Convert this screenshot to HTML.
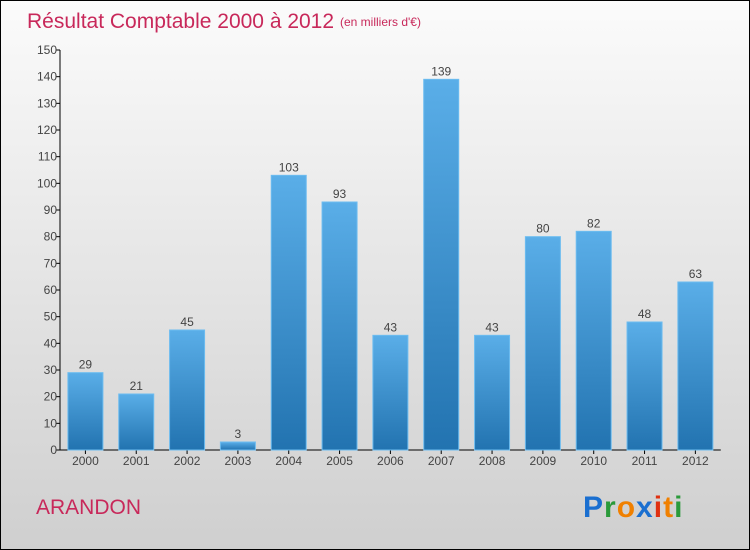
<!DOCTYPE html>
<html><head><meta charset="utf-8"><style>
body{margin:0;width:750px;height:550px;overflow:hidden;font-family:"Liberation Sans",sans-serif}
svg{display:block}
</style></head><body>
<svg id="c" width="750" height="550">
<defs>
<linearGradient id="bg" x1="0" y1="0" x2="0" y2="1"><stop offset="0" stop-color="#fbfbfb"/><stop offset="1" stop-color="#cfcfcf"/></linearGradient>
<linearGradient id="bar" x1="0" y1="0" x2="0" y2="1"><stop offset="0" stop-color="#5aaee8"/><stop offset="1" stop-color="#2273b0"/></linearGradient>
</defs>
<rect x="0.5" y="0.5" width="749" height="549" fill="url(#bg)" stroke="#000"/>
<text x="27" y="28" font-size="21" fill="#c8285a">Résultat Comptable 2000 à 2012</text>
<text x="340" y="26" font-size="12" fill="#c8285a">(en milliers d'€)</text>
<text x="36" y="514" font-size="21" fill="#c8285a">ARANDON</text>
<g font-size="30" font-weight="bold" font-family="Liberation Sans, sans-serif" letter-spacing="1">
<text x="583" y="517"><tspan fill="#1a6fd0">P</tspan><tspan fill="#2a9a3a">r</tspan><tspan fill="#f08000">o</tspan><tspan fill="#1a6fd0">x</tspan><tspan fill="#e03010">i</tspan><tspan fill="#f08000">t</tspan><tspan fill="#2a9a3a">i</tspan></text>
</g>
<g id="axes"></g>
<g id="bars"></g>
</svg>
<script>
const categories=["2000","2001","2002","2003","2004","2005","2006","2007","2008","2009","2010","2011","2012"];
const values=[29,21,45,3,103,93,43,139,43,80,82,48,63];
const ticks=[0,10,20,30,40,50,60,70,80,90,100,110,120,130,140,150];
const NS="http://www.w3.org/2000/svg";
const x0=60,band=50.83,bw=35,yBase=450,yTop=50,yMax=150;
const y=v=>yBase-(v/yMax)*(yBase-yTop);
const xc=i=>x0+band*i+band/2;
function mk(t,a,p){const e=document.createElementNS(NS,t);for(const k in a)e.setAttribute(k,a[k]);p.appendChild(e);return e;}
const ax=document.getElementById('axes'),bs=document.getElementById('bars');
let l=mk('line',{x1:x0,y1:yTop,x2:x0,y2:yBase,stroke:'#000'},ax);


l=mk('line',{x1:x0,y1:yBase,x2:x0+band*categories.length,y2:yBase,stroke:'#000'},ax);


ticks.forEach(t=>{
 mk('line',{x1:x0-4,y1:y(t),x2:x0,y2:y(t),stroke:'#000'},ax);
 const tx=mk('text',{x:x0-3,y:y(t)+4,'font-size':12,fill:'#444','text-anchor':'end'},ax);
 tx.textContent=t;
 
 
});
categories.forEach((c,i)=>{
 mk('line',{x1:xc(i),y1:yBase,x2:xc(i),y2:yBase+4,stroke:'#000'},ax);
 const tx=mk('text',{x:xc(i),y:yBase+15,'font-size':12,fill:'#444','text-anchor':'middle'},ax);
 tx.textContent=c;
 
 
 const r=mk('rect',{x:xc(i)-bw/2,y:y(values[i]),width:bw,height:yBase-y(values[i]),fill:'url(#bar)',stroke:'#6cbcf0','stroke-width':1},bs);
 
 
 const v=mk('text',{x:xc(i),y:y(values[i])-4,'font-size':12,fill:'#444','text-anchor':'middle'},bs);
 v.textContent=values[i];
 
 
});
</script>
</body></html>
